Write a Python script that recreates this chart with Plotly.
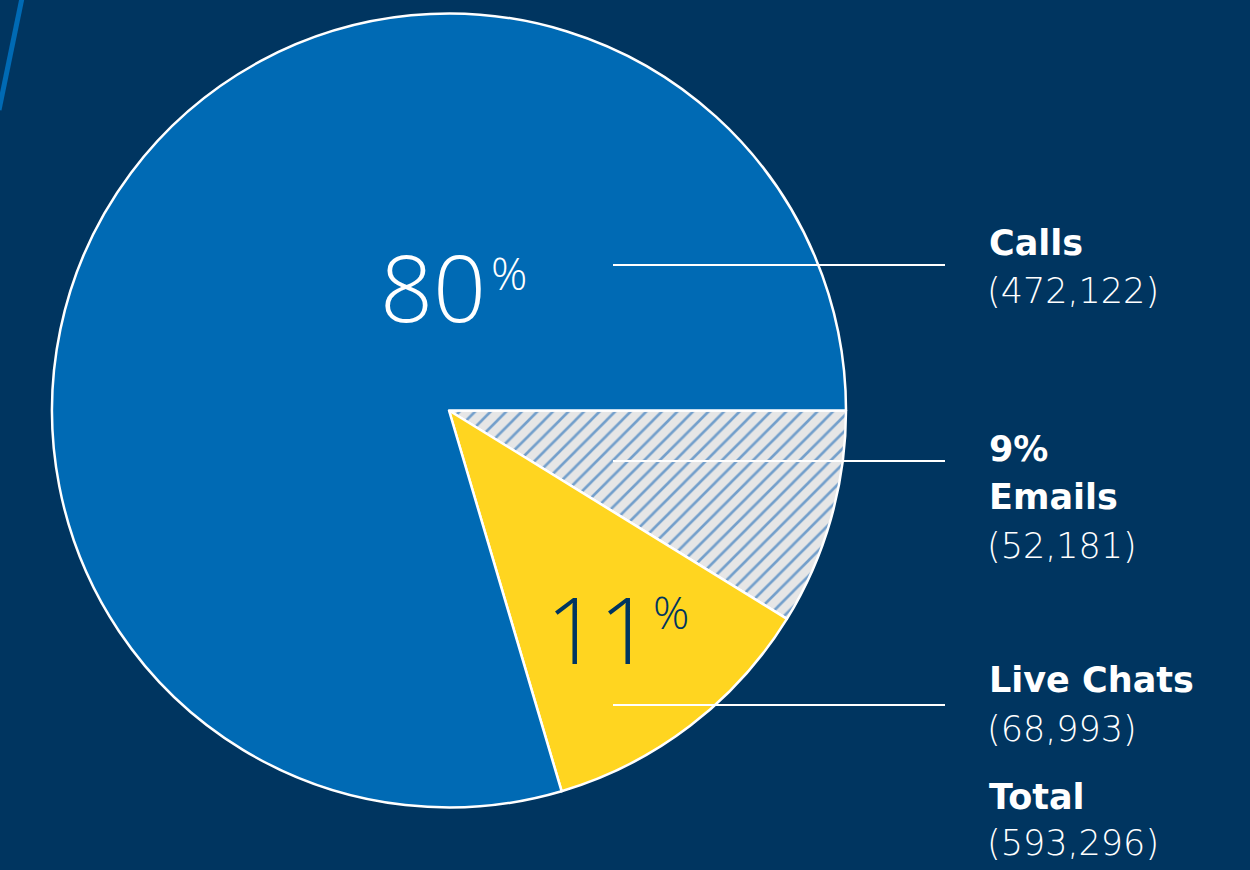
import plotly.graph_objects as go

# Data
categories = ["Emails", "Live Chats", "Calls"]
values = [52181, 68993, 472122]
pct_labels = ["9%", "11", "80"]
total_value = 593296

W, H = 1250, 870
BG = "#003560"
BLUE = "#006ab4"
YELLOW = "#ffd520"
GREY = "#e6e6e6"

def px(x):
    return x / W

def py(y):
    return 1 - y / H

fig = go.Figure()
fig.add_trace(go.Pie(
    labels=categories,
    values=values,
    sort=False,
    direction="clockwise",
    rotation=90,
    textinfo="none",
    hoverinfo="skip",
    showlegend=False,
    marker=dict(
        colors=[GREY, YELLOW, BLUE],
        line=dict(color="white", width=2.5),
        pattern=dict(shape=["/", "", ""], fgcolor="#0058b0", fillmode="overlay",
                     size=11, solidity=0.24),
    ),
    domain=dict(x=[px(52), px(846)], y=[py(808), py(13)]),
))

FONT = "Open Sans"
LABEL_FONT = "DejaVu Sans"
annotations = []

def ann(text, x, y, size, color="white", weight=400, family=FONT):
    annotations.append(dict(
        text=text, x=px(x), y=py(y), xref="paper", yref="paper",
        xanchor="left", yanchor="middle", align="left", showarrow=False,
        font=dict(family=family, size=size, color=color, weight=weight),
    ))

# Big percentages on slices
ann(pct_labels[2], 378, 286, 93, weight=300)
ann("%", 489, 272, 45, weight=300)
ann(pct_labels[1], 544, 628, 93, color=BG, weight=300)
ann("%", 651, 611, 45, color=BG, weight=300)

# Right labels
fmt = lambda v: "(" + f"{v:,}" + ")"
S = 35
ann("<b>" + categories[2] + "</b>", 987, 243, S, weight=700, family=LABEL_FONT)
ann(fmt(values[2]), 985, 291, S, weight=200, family=LABEL_FONT)
ann("<b>" + pct_labels[0] + "</b>", 987, 449, S, weight=700, family=LABEL_FONT)
ann("<b>" + categories[0] + "</b>", 987, 497, S, weight=700, family=LABEL_FONT)
ann(fmt(values[0]), 985, 546, S, weight=200, family=LABEL_FONT)
ann("<b>" + categories[1] + "</b>", 987, 680, S, weight=700, family=LABEL_FONT)
ann(fmt(values[1]), 985, 729, S, weight=200, family=LABEL_FONT)
ann("<b>Total</b>", 987, 797, S, weight=700, family=LABEL_FONT)
ann(fmt(total_value), 985, 843, S, weight=200, family=LABEL_FONT)

shapes = []
for yy in [265, 461, 705]:
    shapes.append(dict(type="line", xref="paper", yref="paper",
                       x0=px(613), x1=px(945), y0=py(yy), y1=py(yy),
                       line=dict(color="white", width=2)))
# decorative diagonal stroke top-left
shapes.append(dict(type="line", xref="paper", yref="paper",
                   x0=px(22), y0=py(-2), x1=px(-1), y1=py(110),
                   line=dict(color=BLUE, width=5)))

fig.update_layout(
    width=W, height=H,
    margin=dict(l=0, r=0, t=0, b=0),
    paper_bgcolor=BG,
    plot_bgcolor=BG,
    annotations=annotations,
    shapes=shapes,
)

fig.write_html(
    "out.html",
    config={"displayModeBar": False},
    post_script="document.body.style.margin='0';document.body.style.padding='0';document.body.style.overflow='hidden';",
)
